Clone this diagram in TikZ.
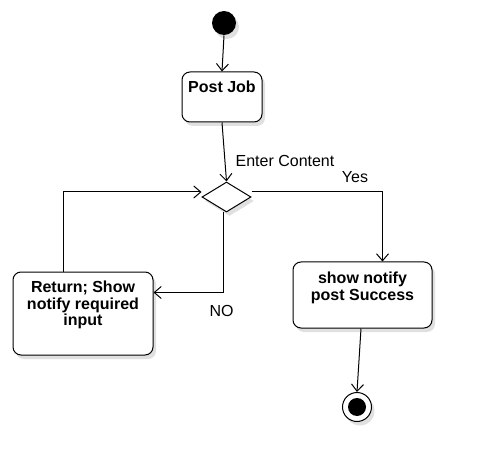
\documentclass[tikz,border=0pt]{standalone}
\usepackage{fontspec}
\setmainfont{Liberation Sans}
\usetikzlibrary{positioning}
\usetikzlibrary{shapes.geometric}
\usetikzlibrary{arrows.meta}
\usetikzlibrary{shadows}

\begin{document}
\begin{tikzpicture}
    [x=1pt, y=-1pt, line width=1pt,
      every node/.style={inner sep=0pt},
      shadowed/.style={drop shadow={shadow xshift=3pt, shadow yshift=-4pt, fill=black!12, opacity=1}},
      act/.style={draw, rounded corners=8pt, fill=white, shadowed},
      acttext/.style={font=\bfseries\fontsize{16}{16.5}\selectfont, align=center},
      guard/.style={font=\fontsize{16}{16}\selectfont, anchor=base},
      flow/.style={-{Straight Barb[length=7pt,width=12pt]}},
     ]
    \useasboundingbox (0,0) rectangle (482,473);

    % states
    \node[circle, fill=black, minimum size=24pt, shadowed] (start) at (224,23) {};
    \node[act, minimum width=80pt, minimum height=50pt] (postjob) at (222,97) {};
    \node[acttext, below=9pt of postjob.north] (postjobtxt) {Post Job};
    \node[diamond, draw, fill=white, minimum width=49pt, minimum height=30pt, shadowed] (choice) at (226.5,197) {};
    \node[act, minimum width=139pt, minimum height=66pt] (notify) at (362.5,295) {};
    \node[acttext, below=10pt of notify.north] (notifytxt) {show notify\\post Success};
    \node[act, minimum width=140pt, minimum height=83pt] (retry) at (83,313.5) {};
    \node[acttext, below=9pt of retry.north] (retrytxt) {Return; Show\\notify required\\input};
    \node[circle, draw, fill=white, minimum size=29pt, shadowed,
      path picture={\fill[black] (path picture bounding box.center) circle (9pt);}] (stop) at (357,407) {};

    % transitions
    \draw[flow] (start.south) -- (postjob.north);
    \draw[flow] (postjob.south) -- (choice.north);
    \draw[flow] ([yshift=5pt]choice.east) -| ([xshift=20pt]notify.north);
    \draw[flow] ([xshift=-3pt]choice.south) |- ([yshift=21pt]retry.east);
    \draw[flow] ([xshift=-20pt]retry.north) |- ([yshift=5pt]choice.west);
    \draw[flow] ([xshift=-1.5pt]notify.south) -- (stop.north);

    % guards
    \node[guard] (enter) at (285,167) {Enter Content};
    \node[guard] (yes) at (355,183) {Yes};
    \node[guard] (no) at (221.5,316) {NO};
\end{tikzpicture}
\end{document}
